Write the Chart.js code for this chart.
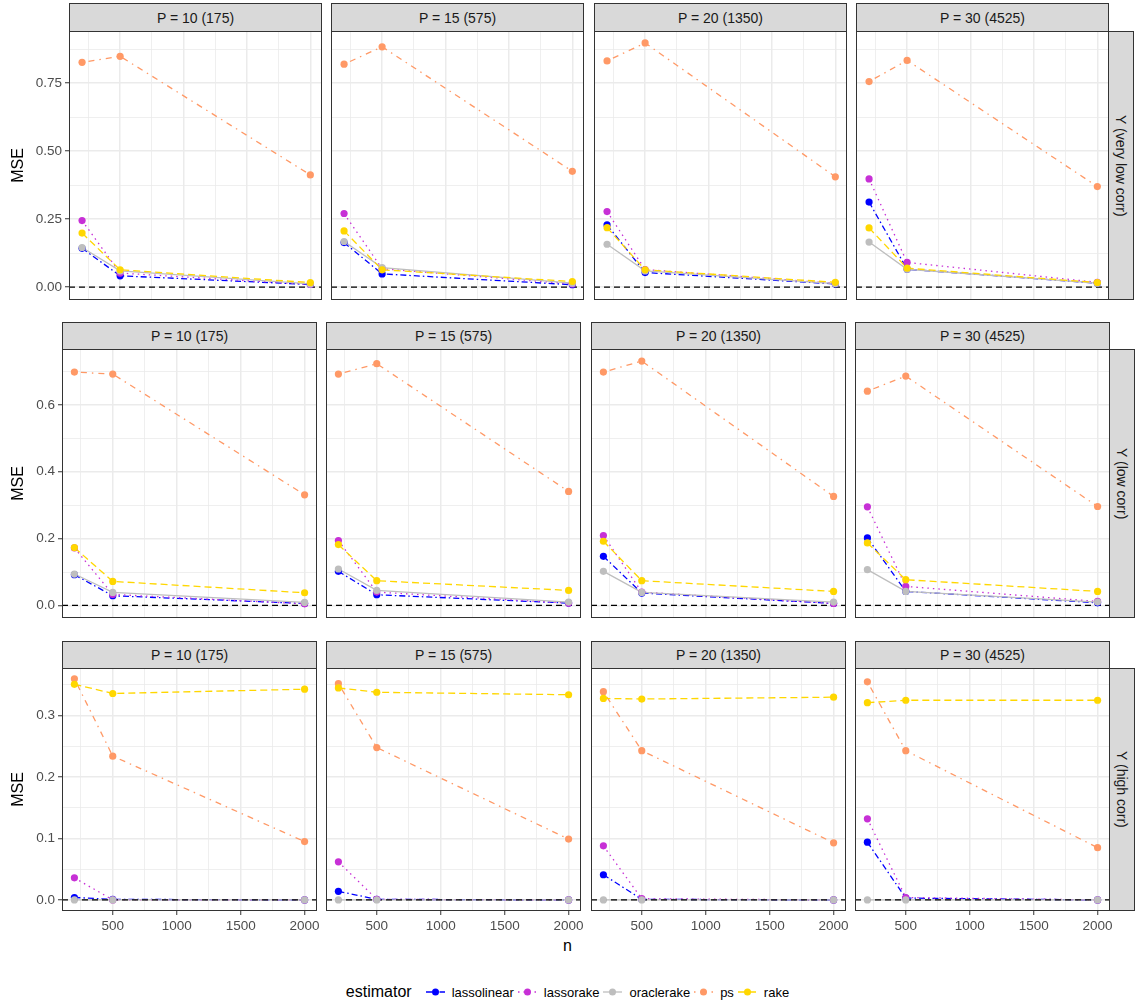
<!DOCTYPE html>
<html>
<head>
<meta charset="utf-8">
<script src="https://cdn.jsdelivr.net/npm/chart.js@4.4.1/dist/chart.umd.min.js"></script>
<style>
  body { margin: 0; background: #fff; font-family: "Liberation Sans", Arial, sans-serif; }
  #fig { position: relative; width: 1135px; height: 1007px; overflow: hidden; }
  #fig canvas { position: absolute; }
  .strip { position: absolute; box-sizing: border-box; background: #d9d9d9; border: 1px solid #333;
           color: #1a1a1a; font-size: 14px; display: flex; align-items: center; justify-content: center; white-space: nowrap; }
  .strip.side { writing-mode: vertical-rl; }
  #xtitle { position: absolute; left: 0; width: 1135px; top: 937px; text-align: center; font-size: 16px; color: #000; }
  #legend { position: absolute; left: 0; width: 1135px; top: 982px; height: 20px; display: flex;
            justify-content: center; align-items: center; font-size: 13px; color: #000; }
  #legend .ttl { font-size: 16px; margin-right: 5px; }
  #legend svg { margin-left: 4px; }
  #legend .lab { margin-left: 7px; }
</style>
</head>
<body>
<div id="fig">
  <div id="xtitle">n</div>
  <div id="legend"><span class="ttl">estimator</span></div>
</div>
<script>
const nValues = [200, 500, 2000];
const panelLabels = ['P = 10 (175)', 'P = 15 (575)', 'P = 20 (1350)', 'P = 30 (4525)'];
const rowLabels = ['Y (very low corr)', 'Y (low corr)', 'Y (high corr)'];
const estimators = ['lassolinear', 'lassorake', 'oraclerake', 'ps', 'rake'];

// MSE, one entry per P panel, values at n = 200, 500, 2000
const lassolinearVeryLow = [[0.143, 0.042, 0.010], [0.164, 0.049, 0.009], [0.229, 0.054, 0.012], [0.313, 0.066, 0.015]];
const lassorakeVeryLow   = [[0.245, 0.052, 0.010], [0.271, 0.068, 0.012], [0.278, 0.065, 0.014], [0.398, 0.091, 0.018]];
const oraclerakeVeryLow  = [[0.146, 0.060, 0.012], [0.168, 0.072, 0.015], [0.158, 0.060, 0.013], [0.166, 0.066, 0.015]];
const psVeryLow          = [[0.827, 0.849, 0.413], [0.820, 0.884, 0.426], [0.832, 0.898, 0.406], [0.756, 0.834, 0.370]];
const rakeVeryLow        = [[0.199, 0.064, 0.017], [0.207, 0.064, 0.021], [0.219, 0.064, 0.018], [0.218, 0.070, 0.017]];

const lassolinearLow = [[0.092, 0.029, 0.006], [0.102, 0.032, 0.007], [0.147, 0.037, 0.006], [0.202, 0.042, 0.008]];
const lassorakeLow   = [[0.172, 0.033, 0.005], [0.194, 0.040, 0.007], [0.209, 0.040, 0.006], [0.295, 0.057, 0.012]];
const oraclerakeLow  = [[0.094, 0.039, 0.009], [0.109, 0.045, 0.010], [0.102, 0.039, 0.010], [0.107, 0.042, 0.010]];
const psLow          = [[0.698, 0.692, 0.331], [0.692, 0.723, 0.341], [0.698, 0.731, 0.326], [0.641, 0.686, 0.296]];
const rakeLow        = [[0.173, 0.072, 0.038], [0.182, 0.074, 0.045], [0.192, 0.074, 0.042], [0.187, 0.077, 0.042]];

const lassolinearHigh = [[0.004, 0.001, 0.000], [0.014, 0.001, 0.000], [0.041, 0.001, 0.000], [0.094, 0.003, 0.000]];
const lassorakeHigh   = [[0.036, 0.000, 0.000], [0.062, 0.001, 0.000], [0.088, 0.002, 0.000], [0.132, 0.004, 0.000]];
const oraclerakeHigh  = [[0.000, 0.000, 0.000], [0.000, 0.000, 0.000], [0.000, 0.000, 0.000], [0.000, 0.000, 0.000]];
const psHigh          = [[0.360, 0.234, 0.095], [0.352, 0.248, 0.099], [0.339, 0.243, 0.093], [0.355, 0.243, 0.085]];
const rakeHigh        = [[0.351, 0.336, 0.343], [0.345, 0.338, 0.334], [0.328, 0.327, 0.330], [0.321, 0.325, 0.325]];

const xMajorTicks = [500, 1000, 1500, 2000];
const xMinorTicks = [250, 750, 1250, 1750];
const xTickLabels = ['500', '1000', '1500', '2000'];
const yMajorTicks = [[0, 0.25, 0.5, 0.75], [0, 0.2, 0.4, 0.6], [0, 0.1, 0.2, 0.3]];
const yMinorTicks = [[0.125, 0.375, 0.625, 0.875], [0.1, 0.3, 0.5, 0.7], [0.05, 0.15, 0.25, 0.35]];
const yTickLabels = [['0.00', '0.25', '0.50', '0.75'], ['0.0', '0.2', '0.4', '0.6'], ['0.0', '0.1', '0.2', '0.3']];
const xRange = [[97, 2092], [103, 2097], [103, 2097]];
const yRange = [[-0.047, 0.942], [-0.0375, 0.767], [-0.018, 0.3775]];

const rows = [
  [lassolinearVeryLow, lassorakeVeryLow, oraclerakeVeryLow, psVeryLow, rakeVeryLow],
  [lassolinearLow, lassorakeLow, oraclerakeLow, psLow, rakeLow],
  [lassolinearHigh, lassorakeHigh, oraclerakeHigh, psHigh, rakeHigh]
];

// styling
const colors = ['#0000FF', '#C730D6', '#BEBEBE', '#FF9966', '#FFD700'];
const dashes = [[6, 3, 1.5, 3], [1.5, 4], [], [1.5, 5, 6, 5], [7, 4]];
const layout = [
  { stripTop: 3, top: 31, height: 269, lefts: [69, 331, 594, 856], width: 253 },
  { stripTop: 322, top: 349, height: 269, lefts: [62, 326, 591, 855], width: 255 },
  { stripTop: 641, top: 668, height: 243, lefts: [62, 326, 591, 855], width: 255 }
];

Chart.defaults.font.family = '"Liberation Sans", Arial, sans-serif';

const panelBorder = {
  id: 'panelBorder',
  afterDraw(chart) {
    const { ctx, chartArea: a } = chart;
    ctx.save();
    ctx.strokeStyle = '#333';
    ctx.lineWidth = 1;
    ctx.strokeRect(a.left + 0.5, a.top + 0.5, a.width - 1, a.height - 1);
    ctx.restore();
  }
};

function noPadding(s) {
  s.paddingTop = 0; s.paddingBottom = 0; s.paddingLeft = 0; s.paddingRight = 0;
}

const fig = document.getElementById('fig');

function addStrip(text, left, top, w, h, side) {
  const d = document.createElement('div');
  d.className = side ? 'strip side' : 'strip';
  d.style.left = left + 'px'; d.style.top = top + 'px';
  d.style.width = w + 'px'; d.style.height = h + 'px';
  d.textContent = text;
  fig.appendChild(d);
}

rows.forEach((series, r) => {
  const L = layout[r];
  const yMaj = yMajorTicks[r];
  const yAll = yMaj.concat(yMinorTicks[r]).sort((a, b) => a - b);
  const xAll = xMajorTicks.concat(xMinorTicks).sort((a, b) => a - b);

  panelLabels.forEach((label, c) => {
    const left = L.lefts[c];
    const firstCol = c === 0;
    const bottomRow = r === 2;
    const axisW = firstCol ? left : 0;
    const axisH = bottomRow ? 24 : 0;
    const padRight = bottomRow ? 9 : 0;

    addStrip(label, left, L.stripTop, L.width, L.top - L.stripTop + 1, false);
    if (c === 3) addStrip(rowLabels[r], left + L.width - 1, L.top, 26, L.height, true);

    const cv = document.createElement('canvas');
    cv.width = L.width + axisW + padRight;
    cv.height = L.height + axisH;
    cv.style.left = (firstCol ? 0 : left) + 'px';
    cv.style.top = L.top + 'px';
    fig.appendChild(cv);

    const datasets = [];
    estimators.forEach((name, k) => {
      const pts = nValues.map((n, i) => ({ x: n, y: series[k][c][i] }));
      datasets.push({ label: name, data: pts, showLine: true, borderColor: colors[k], borderWidth: 1.3,
        borderDash: dashes[k], pointRadius: 0, order: 10 - k });
      datasets.push({ label: name, data: pts, showLine: false, pointRadius: 3.6, pointBorderWidth: 0,
        pointBackgroundColor: colors[k], borderColor: colors[k], order: 4 - k });
    });
    datasets.push({ label: 'zero', data: [{ x: xRange[r][0], y: 0 }, { x: xRange[r][1], y: 0 }],
      showLine: true, borderColor: '#000', borderWidth: 1.3, borderDash: [6, 4], pointRadius: 0, order: 5 });

    new Chart(cv, {
      type: 'scatter',
      data: { datasets },
      plugins: [panelBorder],
      options: {
        responsive: false, animation: false, devicePixelRatio: 1,
        layout: { padding: { left: 0, top: 0, bottom: 0, right: padRight }, autoPadding: false },
        plugins: { legend: { display: false }, tooltip: { enabled: false } },
        scales: {
          x: {
            type: 'linear', min: xRange[r][0], max: xRange[r][1],
            afterBuildTicks: s => { s.ticks = xAll.map(v => ({ value: v })); },
            afterFit: s => { s.height = axisH; noPadding(s); },
            border: { display: false },
            grid: {
              color: '#EBEBEB',
              lineWidth: ctx => (ctx.tick && xMajorTicks.includes(ctx.tick.value)) ? 1.5 : 0.8,
              drawTicks: bottomRow, tickLength: 4, tickWidth: 1,
              tickColor: ctx => (ctx.tick && xMajorTicks.includes(ctx.tick.value)) ? '#333' : 'rgba(0,0,0,0)'
            },
            ticks: {
              display: bottomRow, autoSkip: false, maxRotation: 0, padding: 3, color: '#4D4D4D',
              font: { size: 13.5 },
              callback: v => { const i = xMajorTicks.indexOf(v); return i < 0 ? '' : xTickLabels[i]; }
            }
          },
          y: {
            type: 'linear', min: yRange[r][0], max: yRange[r][1],
            afterBuildTicks: s => { s.ticks = yAll.map(v => ({ value: v })); },
            afterFit: s => { s.width = axisW; noPadding(s); },
            border: { display: false },
            title: { display: firstCol, text: 'MSE', color: '#000', font: { size: 16 }, padding: { top: 9, bottom: 0 } },
            grid: {
              color: '#EBEBEB',
              lineWidth: ctx => (ctx.tick && yMaj.includes(ctx.tick.value)) ? 1.5 : 0.8,
              drawTicks: firstCol, tickLength: 4, tickWidth: 1,
              tickColor: ctx => (ctx.tick && yMaj.includes(ctx.tick.value)) ? '#333' : 'rgba(0,0,0,0)'
            },
            ticks: {
              display: firstCol, autoSkip: false, padding: 3, color: '#4D4D4D',
              font: { size: 13.5 },
              callback: v => { const i = yMaj.indexOf(v); return i < 0 ? '' : yTickLabels[r][i]; }
            }
          }
        }
      }
    });
  });
});

// legend
const legend = document.getElementById('legend');
const svgNS = 'http://www.w3.org/2000/svg';
estimators.forEach((name, k) => {
  const svg = document.createElementNS(svgNS, 'svg');
  svg.setAttribute('width', '19'); svg.setAttribute('height', '14');
  const ln = document.createElementNS(svgNS, 'line');
  ln.setAttribute('x1', '0'); ln.setAttribute('y1', '7'); ln.setAttribute('x2', '19'); ln.setAttribute('y2', '7');
  ln.setAttribute('stroke', colors[k]); ln.setAttribute('stroke-width', '1.3');
  if (dashes[k].length) ln.setAttribute('stroke-dasharray', dashes[k].join(' '));
  const dot = document.createElementNS(svgNS, 'circle');
  dot.setAttribute('cx', '9.5'); dot.setAttribute('cy', '7'); dot.setAttribute('r', '3.5');
  dot.setAttribute('fill', colors[k]);
  svg.appendChild(ln); svg.appendChild(dot);
  if (k === 0) svg.style.marginLeft = '9px';
  legend.appendChild(svg);
  const lab = document.createElement('span');
  lab.className = 'lab';
  lab.textContent = name;
  legend.appendChild(lab);
});
</script>
</body>
</html>
